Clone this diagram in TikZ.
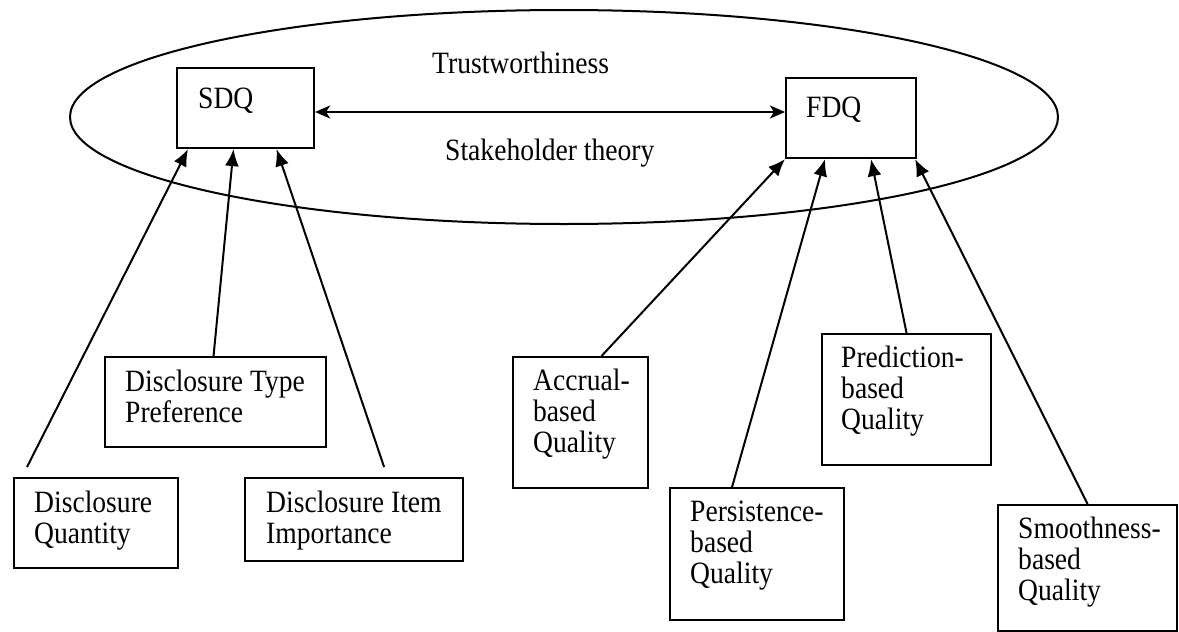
\documentclass[tikz,border=0pt]{standalone}
\usepackage{fontspec}
\setmainfont[FakeStretch=0.89]{Liberation Serif}
\usetikzlibrary{arrows.meta}
\begin{document}
\begin{tikzpicture}[x=1pt,y=-1pt,
  every node/.style={font=\fontsize{31}{30.7}\selectfont},
  box/.style={draw,line width=2.1pt,rectangle,inner sep=0pt,anchor=north west},
  lbl/.style={anchor=base west,align=left,inner sep=0pt},
  conn/.style={line width=2pt,-{Latex[length=17pt,width=14pt]}},
  both/.style={line width=2pt,{Stealth[length=15pt,width=13pt,inset=4pt]}-{Stealth[length=15pt,width=13pt,inset=4pt]}}]
\useasboundingbox (0,0) rectangle (1179,632);
% ellipse
\draw[line width=2pt] (564,117) ellipse [x radius=494, y radius=107];
\node[anchor=base west,inner sep=0pt] (trust) at (432,73) {Trustworthiness};
\node[anchor=base west,inner sep=0pt] (stake) at (445,160) {Stakeholder theory};
% top boxes
\node[box,minimum width=137pt,minimum height=80pt] (sdq) at (176,67) {};
\node[lbl] at (198,108) {SDQ};
\node[box,minimum width=130pt,minimum height=80pt] (fdq) at (785,77) {};
\node[lbl] at (806,117) {FDQ};
\draw[both] (sdq.east |- 0,112) -- (fdq.west |- 0,112);
% SDQ boxes (label anchored at baseline of last line)
\node[box,minimum width=221pt,minimum height=90pt] (dtp) at (104,356) {};
\node[lbl] at (125,422) {Disclosure Type\\Preference};
\node[box,minimum width=164pt,minimum height=90pt] (dq) at (13,477) {};
\node[lbl] at (34,543) {Disclosure\\Quantity};
\node[box,minimum width=218pt,minimum height=83pt] (dii) at (244,477) {};
\node[lbl] at (266,543) {Disclosure Item\\Importance};
% FDQ boxes
\node[box,minimum width=135pt,minimum height=131pt] (acc) at (512,356) {};
\node[lbl] at (533,452) {Accrual-\\based\\Quality};
\node[box,minimum width=174pt,minimum height=132pt] (per) at (669,487) {};
\node[lbl] at (690,583) {Persistence-\\based\\Quality};
\node[box,minimum width=169pt,minimum height=131pt] (pre) at (821,333) {};
\node[lbl] at (841,429) {Prediction-\\based\\Quality};
\node[box,minimum width=179pt,minimum height=126pt] (smo) at (997,504) {};
\node[lbl] at (1018,600) {Smoothness-\\based\\Quality};
% free ends
\coordinate (dqend) at ([xshift=14pt,yshift=10pt]dq.north west);
\coordinate (diiend) at ([xshift=-80pt,yshift=10pt]dii.north east);
% connectors to SDQ
\draw[conn] (dqend) -- ([xshift=12pt]sdq.south west);
\draw[conn] ([xshift=-2pt]dtp.north) -- ([xshift=-12pt]sdq.south);
\draw[conn] (diiend) -- ([xshift=31pt]sdq.south);
% connectors to FDQ
\draw[conn] ([xshift=21pt]acc.north) -- (fdq.south west);
\draw[conn] ([xshift=-25pt]per.north) -- ([xshift=40pt]fdq.south west);
\draw[conn] (pre.north) -- ([xshift=86pt]fdq.south west);
\draw[conn] (smo.north) -- ([xshift=-2pt]fdq.south east);
\end{tikzpicture}
\end{document}
